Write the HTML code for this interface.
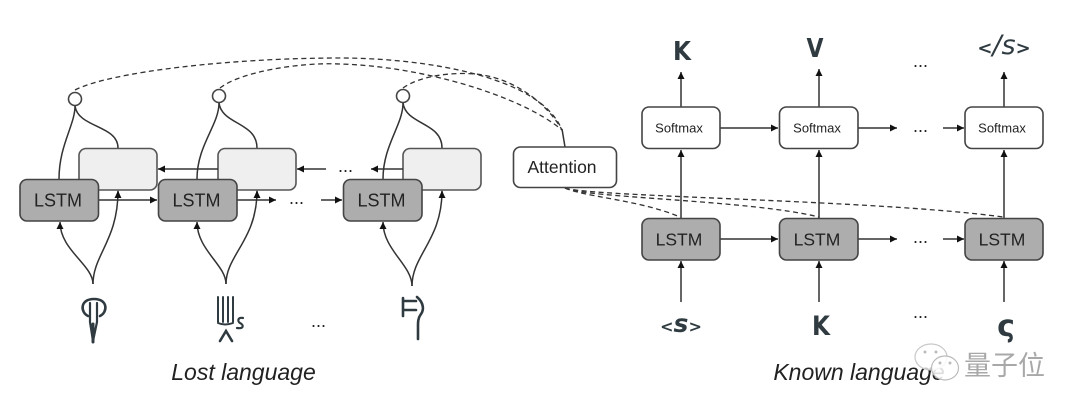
<!DOCTYPE html>
<html><head><meta charset="utf-8"><style>
html,body{margin:0;padding:0;background:#fff;width:1080px;height:411px;overflow:hidden}
svg{display:block;filter:blur(0.35px)}
text{font-family:"Liberation Sans",sans-serif;fill:#222}
.l{fill:none;stroke:#333;stroke-width:1.5}
.d{fill:none;stroke:#333;stroke-width:1.3;stroke-dasharray:5 3.5}
.g{fill:#adadad;stroke:#444;stroke-width:1.6}
.e{fill:#efefef;stroke:#555;stroke-width:1.6}
.w{fill:#fff;stroke:#444;stroke-width:1.6}
.a{fill:#111}
.h{fill:none;stroke:#2f3b40;stroke-width:2.6}
.s{font-family:"DejaVu Sans",sans-serif;fill:#2f3b40;font-weight:bold}
.dots{font-size:18px;fill:#222}
</style></head><body>
<svg width="1080" height="411" viewBox="0 0 1080 411" xmlns="http://www.w3.org/2000/svg">
<defs><marker id="m" markerWidth="8" markerHeight="7" refX="7" refY="3.5" orient="auto" markerUnits="userSpaceOnUse"><path d="M0 0L7 3.5L0 7z" fill="#111"/></marker></defs>

<!-- dashed attention lines -->
<path class="d" d="M75 90C110 72 230 58 340 58C420 58 540 75 562 130"/>
<path class="d" d="M220 88C240 72 300 62 340 64C420 66 520 95 562 130"/>
<path class="d" d="M403 88C420 76 450 72 475 74C510 77 545 100 562 130"/>
<path class="l" d="M562 129L565 147"/>
<path class="d" d="M565 188C585 197 640 200 680 217"/>
<path class="d" d="M565 188C585 198 750 200 819 217"/>
<path class="d" d="M565 188C590 197 880 200 1003 217"/>

<!-- left connectors -->
<g class="l">
<path d="M75 106C75 125 59 145 59 179"/>
<path d="M75 106C78 128 118 125 118 148"/>
<path d="M219 103C219 125 197 145 197 179"/>
<path d="M219 103C222 125 257 122 257 148"/>
<path d="M403 103C403 125 383 145 383 179"/>
<path d="M403 103C406 125 442 122 442 148"/>
<path d="M93 284C93 265 60 250 60 222" marker-end="url(#m)"/>
<path d="M93 284C93 255 118 240 118 191" marker-end="url(#m)"/>
<path d="M226 284C226 265 197 250 197 222" marker-end="url(#m)"/>
<path d="M226 284C226 255 257 240 257 191" marker-end="url(#m)"/>
<path d="M412 286C412 265 383 250 383 222" marker-end="url(#m)"/>
<path d="M412 286C412 255 442 240 442 191" marker-end="url(#m)"/>
</g>

<!-- left boxes -->
<rect class="e" x="79" y="148.500" width="78" height="41.500" rx="7"/>
<rect class="e" x="218" y="148.500" width="78" height="41.500" rx="7"/>
<rect class="e" x="403" y="148.500" width="78" height="41.500" rx="7"/>
<g class="l">
<path d="M218 169H158" marker-end="url(#m)"/>
<path d="M326 169H297" marker-end="url(#m)"/>
<path d="M403 169H371" marker-end="url(#m)"/>
<path d="M99 200H157" marker-end="url(#m)"/>
<path d="M237 200H276" marker-end="url(#m)"/>
<path d="M321 200H342" marker-end="url(#m)"/>
</g>
<path class="a" d="M118 190l-3 8h6zM257 190l-3 8h6zM442 190l-3 8h6z"/>
<rect class="g" x="20" y="179.500" width="78.500" height="41.500" rx="7"/>
<rect class="g" x="158.500" y="179.500" width="78.500" height="41.500" rx="7"/>
<rect class="g" x="343.500" y="179.500" width="78.500" height="41.500" rx="7"/>
<text x="58" y="206.500" font-size="18" text-anchor="middle">LSTM</text>
<text x="196.500" y="206.500" font-size="18" text-anchor="middle">LSTM</text>
<text x="381.500" y="206.500" font-size="18" text-anchor="middle">LSTM</text>
<text class="dots" x="296.500" y="204" text-anchor="middle">...</text>
<text class="dots" x="345.500" y="172" text-anchor="middle">...</text>
<circle class="w" cx="75" cy="99" r="6.500"/>
<circle class="w" cx="219" cy="96" r="6.500"/>
<circle class="w" cx="403" cy="96" r="6.500"/>

<!-- attention -->
<rect class="w" x="513.500" y="147" width="103" height="40.500" rx="7"/>
<text x="562" y="173" font-size="17.500" text-anchor="middle">Attention</text>

<!-- right connectors -->
<g class="l">
<path d="M681 107V72" marker-end="url(#m)"/>
<path d="M819 107V69" marker-end="url(#m)"/>
<path d="M1004 107V72" marker-end="url(#m)"/>
<path d="M681 218V150" marker-end="url(#m)"/>
<path d="M819 218V150" marker-end="url(#m)"/>
<path d="M1004 218V150" marker-end="url(#m)"/>
<path d="M681 302V261" marker-end="url(#m)"/>
<path d="M819 302V261" marker-end="url(#m)"/>
<path d="M1004 302V261" marker-end="url(#m)"/>
<path d="M720 128H778" marker-end="url(#m)"/>
<path d="M858 128H897" marker-end="url(#m)"/>
<path d="M943 128H964" marker-end="url(#m)"/>
<path d="M720 239H778" marker-end="url(#m)"/>
<path d="M858 239H897" marker-end="url(#m)"/>
<path d="M943 239H964" marker-end="url(#m)"/>
</g>
<rect class="w" x="642" y="107" width="78" height="41.500" rx="7"/>
<rect class="w" x="779.500" y="107" width="78.500" height="41.500" rx="7"/>
<rect class="w" x="965" y="107" width="78" height="41.500" rx="7"/>
<rect class="g" x="642" y="218.500" width="78" height="41.500" rx="7"/>
<rect class="g" x="779.500" y="218.500" width="78.500" height="41.500" rx="7"/>
<rect class="g" x="965" y="218.500" width="78" height="41.500" rx="7"/>
<g font-size="13" text-anchor="middle">
<text x="679" y="132.500">Softmax</text>
<text x="817" y="132.500">Softmax</text>
<text x="1002" y="132.500">Softmax</text>
</g>
<g font-size="17.500" text-anchor="middle">
<text x="679" y="245.500">LSTM</text>
<text x="817" y="245.500">LSTM</text>
<text x="1002" y="245.500">LSTM</text>
</g>
<g text-anchor="middle">
<text class="dots" x="920.500" y="67">...</text>
<text class="dots" x="920.500" y="132">...</text>
<text class="dots" x="920.500" y="243">...</text>
<text class="dots" x="920.500" y="318">...</text>
<text class="dots" x="318.500" y="327">...</text>
</g>

<!-- right symbols -->
<text class="s" x="682" y="60" font-size="26" text-anchor="middle" textLength="18" lengthAdjust="spacingAndGlyphs">K</text>
<text class="s" x="815" y="57" font-size="26" text-anchor="middle" textLength="17" lengthAdjust="spacingAndGlyphs">V</text>
<text class="s" x="821" y="335" font-size="27" text-anchor="middle" textLength="18" lengthAdjust="spacingAndGlyphs">K</text>
<text class="s" x="1004" y="54" text-anchor="middle"><tspan font-size="18">&lt;</tspan><tspan font-size="27" font-style="italic" style="font-weight:normal">/s</tspan><tspan font-size="18">&gt;</tspan></text>
<text class="s" x="681" y="332" text-anchor="middle"><tspan font-size="16">&lt;</tspan><tspan font-size="25" font-style="italic">s</tspan><tspan font-size="16">&gt;</tspan></text>
<text class="s" x="1006" y="336" font-size="30" text-anchor="middle">ς</text>

<!-- lost-language symbols -->
<g class="h" stroke-linecap="round">
<path d="M88 316C80 312 80 299 94 299C108 299 108 312 100 316"/>
<path d="M90 303V322L93 341L97 322V303" style="stroke-width:2.200"/>
<path d="M93 324V342" style="stroke-width:3"/>
</g>
<g class="h" stroke-linecap="round">
<path style="stroke-width:2" d="M218 297V322M223 297V322M228 297V322M233 297V322M218 323Q225 326 233 323"/>
<path d="M220 341L226 331L232 341"/>
<path style="stroke-width:2.200" d="M243 318C238 317 237 321 240 323C244 325 244 329 237 328"/>
<path d="M403 298V316M403 301H416M403 310H416"/>
<path d="M417 297C424 303 424 310 421 314C418 318 418 322 418 326V339"/>
</g>

<!-- captions -->
<text x="243.500" y="380" font-size="23" font-style="italic" text-anchor="middle">Lost language</text>
<text x="859" y="380" font-size="23" font-style="italic" text-anchor="middle">Known language</text>

<!-- watermark -->
<g>
<ellipse cx="931" cy="357" rx="16" ry="13" fill="#fff" fill-opacity=".75" stroke="#c8c8c8" stroke-width="1.200"/>
<ellipse cx="945" cy="368" rx="13.500" ry="12" fill="#fff" fill-opacity=".85" stroke="#bbb" stroke-width="1.200"/>
<circle cx="925" cy="352" r="1.500" fill="#bbb"/><circle cx="936" cy="352" r="1.500" fill="#bbb"/>
<circle cx="940" cy="363" r="1.500" fill="#bbb"/><circle cx="950" cy="363" r="1.500" fill="#bbb"/>
</g>
<text x="964" y="375" font-size="27" style="font-family:'Liberation Sans','Noto Sans CJK SC',sans-serif;fill:#a8a8a8">量子位</text>
</svg>
</body></html>
